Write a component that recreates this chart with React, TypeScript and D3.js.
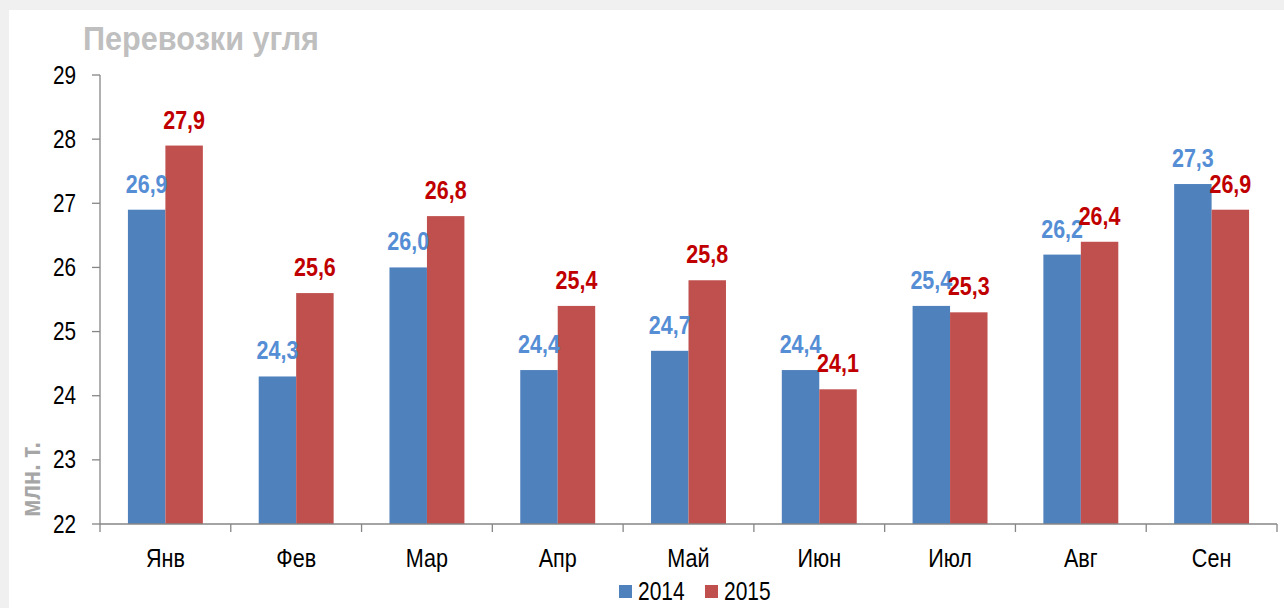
import React from "react";
import * as d3 from "d3";

const categories = ["Янв", "Фев", "Мар", "Апр", "Май", "Июн", "Июл", "Авг", "Сен"];
const series2014 = [26.9, 24.3, 26.0, 24.4, 24.7, 24.4, 25.4, 26.2, 27.3];
const series2015 = [27.9, 25.6, 26.8, 25.4, 25.8, 24.1, 25.3, 26.4, 26.9];
const seriesNames = ["2014", "2015"];
const yTicks = [22, 23, 24, 25, 26, 27, 28, 29];
const title = "Перевозки угля";
const yLabel = "млн. т.";

const W = 1284;
const H = 608;
const BAR_COLORS = ["#4F81BD", "#C0504D"];
const LABEL_COLORS = ["#558ED5", "#C00000"];
const AXIS = "#868686";
const FONT = "'Liberation Sans', Arial, sans-serif";
const SX = 0.84;

function NText({ x, y, children, size, anchor = "middle", weight = "normal", fill = "#000", sx = SX }: any) {
  return (
    <text
      transform={`translate(${x},${y}) scale(${sx},1)`}
      textAnchor={anchor}
      fontSize={size}
      fontWeight={weight}
      fill={fill}
      fontFamily={FONT}
    >
      {children}
    </text>
  );
}

export default function App() {
  const x0 = d3.scaleBand<string>().domain(categories).range([100, 1277]).paddingInner(0.427).paddingOuter(0.2135);
  const x1 = d3.scaleBand<string>().domain(seriesNames).range([0, x0.bandwidth()]);
  const y = d3.scaleLinear().domain([22, 29]).range([524, 75]);
  const step = x0.step();
  const tickXs = d3.range(categories.length + 1).map((i) => 100 + i * step);
  const data = [series2014, series2015];
  const fmt = (v: number) => v.toFixed(1).replace(".", ",");

  return (
    <svg width={W} height={H} style={{ position: "absolute", left: 0, top: 0 }}>
      <rect x={0} y={0} width={W} height={H} fill="#F0F0F0" />
      <rect x={9} y={10} width={W - 9} height={H - 10} fill="#FFFFFF" />
      <text
        x={83}
        y={50}
        fontSize={34}
        fontWeight="bold"
        fill="#BFBFBF"
        fontFamily={FONT}
        textLength={236}
        lengthAdjust="spacingAndGlyphs"
      >
        {title}
      </text>
      <text
        transform={`translate(40,479.5) rotate(-90) scale(0.83,1)`}
        textAnchor="middle"
        fontSize={28}
        fontWeight="bold"
        fill="#A6A6A6"
        fontFamily={FONT}
      >
        {yLabel}
      </text>
      {/* bars */}
      {data.map((s, si) =>
        s.map((v, i) => (
          <rect
            key={`b${si}-${i}`}
            x={(x0(categories[i]) as number) + (x1(seriesNames[si]) as number)}
            y={y(v)}
            width={x1.bandwidth()}
            height={y(22) - y(v)}
            fill={BAR_COLORS[si]}
          />
        ))
      )}
      {/* y axis */}
      <line x1={100} x2={100} y1={75} y2={524} stroke={AXIS} strokeWidth={1.3} />
      {yTicks.map((t) => (
        <g key={`yt${t}`}>
          <line x1={92} x2={100} y1={y(t)} y2={y(t)} stroke={AXIS} strokeWidth={1.3} />
          <NText x={76} y={y(t) + 8.5} size={25} anchor="end" sx={0.83}>
            {t}
          </NText>
        </g>
      ))}
      {/* x axis */}
      <line x1={100} x2={1277} y1={524} y2={524} stroke={AXIS} strokeWidth={1.3} />
      {tickXs.map((tx, i) => (
        <line key={`xt${i}`} x1={tx} x2={tx} y1={524} y2={532} stroke={AXIS} strokeWidth={1.3} />
      ))}
      {categories.map((c) => (
        <NText key={`c${c}`} x={(x0(c) as number) + x0.bandwidth() / 2} y={567} size={26} sx={0.83}>
          {c}
        </NText>
      ))}
      {/* data labels */}
      {data.map((s, si) =>
        s.map((v, i) => (
          <NText
            key={`l${si}-${i}`}
            x={(x0(categories[i]) as number) + (x1(seriesNames[si]) as number) + x1.bandwidth() / 2}
            y={y(v) - 17}
            size={25}
            weight="bold"
            fill={LABEL_COLORS[si]}
            sx={0.86}
          >
            {fmt(v)}
          </NText>
        ))
      )}
      {/* legend */}
      {seriesNames.map((n, i) => (
        <g key={`lg${n}`}>
          <rect x={619 + i * 86} y={585} width={13} height={13} fill={BAR_COLORS[i]} />
          <NText x={638 + i * 86} y={600} size={25} anchor="start">
            {n}
          </NText>
        </g>
      ))}
    </svg>
  );
}
